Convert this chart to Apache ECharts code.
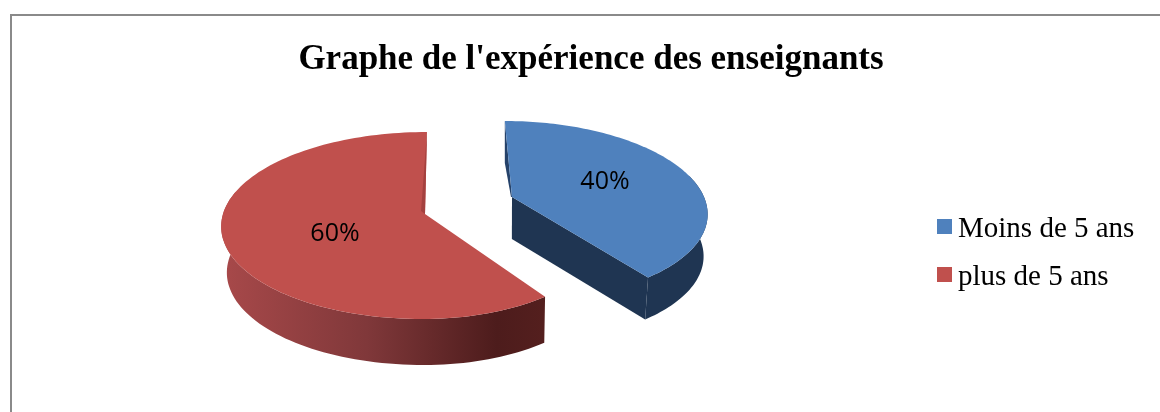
<!DOCTYPE html>
<html><head><meta charset="utf-8">
<style>html,body{margin:0;padding:0;background:#fff}#c{width:1160px;height:412px}</style>
<script src="https://cdn.jsdelivr.net/npm/echarts@6/dist/echarts.min.js"></script>
</head><body><div id="c"></div>
<script>
const categories = ['Moins de 5 ans', 'plus de 5 ans'];
const values = [40, 60];
const titleText = "Graphe de l'expérience des enseignants";

// Drawing geometry of the tilted, exploded pie (styles, not data)
const geom = [
  {dir: 1, ax: 512, ay: 197, xv: 457, bL: 192, bR: 192, a: 87.4, k: 0.15, depth: 42, label: [93, -15], top: '#4F81BD'},
  {dir: -1, ax: 425, ay: 214, xv: 443, bL: 202, bR: 187, a: 92.1, k: 0.123, depth: 46, label: [-90, 20], top: '#C0504D'}
];
const wallX = 505, wallScale = 0.98;
const total = values.reduce((s, v) => s + v, 0);

function project(g, theta) {
  const u = Math.sin(theta), v = Math.cos(theta), d = 1 + g.k * v;
  return [g.xv + ((g.ax - g.xv) + (u < 0 ? g.bL : g.bR) * u) / d, g.ay - g.a * v / d];
}
function down(g, p) {
  return [wallX + (p[0] - wallX) * wallScale, p[1] + g.depth];
}
function makeRender(idx) {
  return function (params, api) {
    const g = geom[idx];
    const val = api.value(0);
    const sweep = val / total * Math.PI * 2 * g.dir;
    const n = 120, arc = [], front = [];
    for (let i = 0; i <= n; i++) {
      const th = sweep * i / n, p = project(g, th);
      arc.push(p);
      if (Math.cos(th) < 0.25) front.push(p);
    }
    const apex = [g.ax, g.ay];
    const bottomFront = front.map(p => down(g, p));
    const wall = front.concat(bottomFront.slice().reverse());
    const kids = [];
    if (idx === 0) {
      const dark = '#1F3552';
      kids.push({type: 'polygon', shape: {points: [arc[0], down(g, arc[0]), [apex[0] - 1, apex[1]], apex]}, style: {fill: '#25426A'}});
      kids.push({type: 'polygon', shape: {points: wall}, style: {fill: dark}});
      kids.push({type: 'polygon', shape: {points: [apex, arc[n], down(g, arc[n]), down(g, apex)]}, style: {fill: dark}});
    } else {
      kids.push({type: 'polygon', shape: {points: wall}, style: {
        fill: new echarts.graphic.LinearGradient(0, 0, 1, 0, [
          {offset: 0, color: '#A8494A'},
          {offset: 0.45, color: '#80383A'},
          {offset: 0.85, color: '#4D1C1C'},
          {offset: 1, color: '#541F1E'}
        ])
      }});
    }
    kids.push({type: 'polygon', shape: {points: [apex].concat(arc)}, style: {fill: g.top}});
    if (idx === 1) {
      kids.push({type: 'polygon', shape: {points: [arc[0], [apex[0] - 4, apex[1] - 3], apex]}, style: {fill: '#A4413F'}});
    }
    kids.push({type: 'text', style: {
      text: Math.round(val / total * 100) + '%',
      x: g.ax + g.label[0], y: g.ay + g.label[1],
      align: 'center', verticalAlign: 'middle',
      font: '25px "Open Sans", sans-serif', fill: '#000'
    }});
    return {type: 'group', children: kids};
  };
}
const chart = echarts.init(document.getElementById('c'), null, {renderer: 'canvas'});
chart.setOption({
  animation: false,
  backgroundColor: '#fff',
  title: {
    text: titleText, left: 586, top: 37, textAlign: 'center',
    textStyle: {fontFamily: '"Liberation Serif"', fontWeight: 'bold', fontSize: 35, color: '#000'}
  },
  legend: {
    orient: 'vertical', left: 932, top: 210,
    icon: 'path://M0,0L15,0L15,15L0,15Z M0,21L0,21Z',
    itemWidth: 15, itemHeight: 21, itemGap: 19,
    data: categories,
    textStyle: {fontFamily: '"Liberation Serif"', fontSize: 29, color: '#000', padding: [0, 0, 0, 1]}
  },
  graphic: [{type: 'rect', silent: true, z: -1,
    shape: {x: 11, y: 15, width: 1300, height: 600},
    style: {fill: 'none', stroke: '#8A8A8A', lineWidth: 2}}],
  series: categories.map((name, i) => ({
    type: 'custom', name, coordinateSystem: 'none',
    itemStyle: {color: geom[i].top},
    renderItem: makeRender(i),
    data: [[values[i]]]
  }))
});
</script></body></html>
